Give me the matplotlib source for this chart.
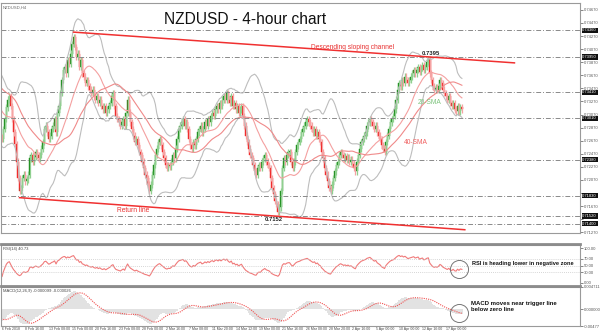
import numpy as np
import pandas as pd
import matplotlib
matplotlib.use("Agg")
import matplotlib.pyplot as plt
import matplotlib.transforms as mtransforms
from matplotlib.lines import Line2D

plt.rcParams['font.family'] = ['Liberation Sans', 'DejaVu Sans']

# 4h closes in pips above 0.7000, warm-up bars before 6 Feb are not drawn
warmup = [365, 372, 378, 385, 380, 388, 392, 386, 380, 375, 382, 390, 395, 398, 392, 388,
          380, 372, 368, 360, 355, 350, 345, 352, 348, 340, 335, 330, 322, 315, 318, 310,
          305, 300, 295, 290, 285, 280, 276, 272]
pips = [270, 285, 300, 318, 330, 335, 320, 300, 280, 262, 235, 210, 190, 195, 210, 215,
        205, 208, 215, 240, 245, 235, 242, 250, 245, 240, 245, 255, 265, 285, 290, 280,
        270, 275, 285, 290, 300, 280, 310, 320, 340, 360, 375, 380, 370, 390, 385, 400,
        415, 425, 410, 395, 400, 380, 390, 370, 365, 355, 360, 350, 345, 340, 345, 335,
        330, 335, 325, 330, 320, 315, 320, 310, 315, 320, 325, 335, 340, 320, 305, 300,
        295, 290, 295, 300, 290, 310, 330, 310, 295, 285, 275, 265, 270, 260, 250, 245,
        235, 225, 215, 210, 200, 190, 200, 215, 230, 245, 255, 265, 270, 260, 250, 240,
        230, 225, 230, 228, 235, 245, 240, 255, 270, 285, 290, 295, 300, 290, 295, 285,
        270, 260, 255, 265, 260, 270, 280, 285, 290, 280, 285, 295, 290, 300, 295, 305,
        310, 305, 315, 320, 315, 325, 320, 330, 335, 330, 340, 330, 325, 335, 320, 325,
        315, 320, 310, 315, 320, 305, 290, 275, 265, 255, 245, 240, 230, 220, 215, 225,
        230, 225, 235, 240, 245, 235, 230, 225, 210, 195, 185, 175, 170, 158, 165, 190,
        225, 240, 235, 245, 250, 250, 235, 225, 235, 250, 260, 265, 270, 280, 285, 290,
        295, 300, 295, 290, 285, 280, 285, 275, 280, 270, 265, 250, 240, 225, 215, 205,
        195, 190, 200, 210, 220, 230, 235, 245, 250, 245, 240, 243, 238, 242, 235, 238,
        232, 225, 220, 235, 245, 255, 265, 270, 275, 280, 290, 295, 300, 295, 290, 285,
        290, 280, 275, 270, 260, 255, 250, 265, 275, 285, 295, 300, 305, 315, 330, 345,
        355, 350, 360, 355, 365, 360, 355, 360, 365, 370, 375, 370, 375, 380, 372, 378,
        382, 375, 380, 388, 392, 370, 360, 350, 345, 348, 345, 350, 360, 355, 345, 340,
        335, 330, 335, 325, 320, 325, 315, 312, 320, 312, 318, 315]

tick_labels = ["6 Feb 2018", "8 Feb 16:00", "13 Feb 08:00", "15 Feb 00:00", "20 Feb 16:00",
               "23 Feb 08:00", "28 Feb 00:00", "2 Mar 16:00", "7 Mar 08:00", "11 Mar 20:00",
               "14 Mar 12:00", "19 Mar 00:00", "21 Mar 16:00", "26 Mar 08:00", "28 Mar 20:00",
               "2 Apr 16:00", "5 Apr 00:00", "10 Apr 00:00", "12 Apr 16:00", "17 Apr 00:00"]
levels = [0.7436, 0.7395, 0.7341, 0.7301, 0.7238, 0.7183, 0.7152, 0.7140]
price_ticks = [0.7127 + 0.002 * k for k in range(18)]
upper_x, upper_y = [49, 351], [0.7433, 0.7386]
lower_x, lower_y = [12, 317], [0.7180, 0.7131]

allc = pd.Series(0.7 + np.array(warmup + pips) / 10000.0)
n0 = len(warmup)
sma20 = allc.rolling(20).mean()
sma40 = allc.rolling(40).mean()
sd20 = allc.rolling(20).std(ddof=0)
bb_up = sma20 + 2 * sd20
bb_dn = sma20 - 2 * sd20
delta = allc.diff()
gain = delta.clip(lower=0).ewm(alpha=1 / 14, adjust=False).mean()
loss = (-delta.clip(upper=0)).ewm(alpha=1 / 14, adjust=False).mean()
rsi = 100 - 100 / (1 + gain / loss)
macd = allc.ewm(span=12, adjust=False).mean() - allc.ewm(span=26, adjust=False).mean()
signal = macd.rolling(9).mean()

close = allc.values[n0:]
opn = allc.values[n0 - 1:-1]
x = np.arange(len(close))
up = close >= opn

fig = plt.figure(figsize=(6, 3.36), dpi=100)
ax = fig.add_axes([1 / 600, 103 / 336, 579 / 600, 230 / 336])
ax_r = fig.add_axes([1 / 600, 50 / 336, 579 / 600, 41 / 336], sharex=ax)
ax_m = fig.add_axes([1 / 600, 10 / 336, 579 / 600, 39 / 336], sharex=ax)

green, red = '#178a17', '#f01c1c'
for a in (ax, ax_r, ax_m):
    for s in a.spines.values():
        s.set_color('#9a9a9a')
        s.set_linewidth(0.8)
    a.tick_params(left=False, labelleft=False, bottom=False, labelbottom=False,
                  right=True, labelright=True, direction='out', length=2, width=0.5,
                  colors='#555555', labelsize=3, pad=1)

# price panel
ax.vlines(x, np.minimum(opn, close) - 0.0005, np.maximum(opn, close) + 0.0005,
          colors=np.where(up, '#8fd08f', '#f5a3a3'), linewidth=0.9)
ax.bar(x, np.where(np.abs(close - opn) < 0.0001, 0.0001, close - opn), bottom=opn,
       width=1.0, color=np.where(up, green, red), edgecolor=np.where(up, green, red),
       linewidth=0.3)
xi = np.arange(-n0, len(close))
ax.plot(xi, bb_up, color='#bdbdbd', lw=0.8)
ax.plot(xi, bb_dn, color='#bdbdbd', lw=0.8)
ax.plot(xi, sma20, color='#f4a0a0', lw=0.8)
ax.plot(xi, sma40, color='#f08a8a', lw=0.8)
for lv in levels:
    ax.axhline(lv, color='#8a8a8a', lw=0.7, ls=(0, (5, 2, 1, 2)))
ax.plot(upper_x, upper_y, color='#f03030', lw=1.1)
ax.plot(lower_x, lower_y, color='#f03030', lw=1.1)
ax.set_xlim(-0.7, 395.9)
ax.set_ylim(0.71260, 0.74775)
ax.set_yticks(price_ticks)
ax.set_yticklabels([f"{t:.5f}" if min(abs(t - lv) for lv in levels) > 0.0006 else ""
                    for t in price_ticks])
trans = mtransforms.blended_transform_factory(ax.transAxes, ax.transData)
for lv in levels:
    ax.text(1.004, lv, f"{lv:.5f}", transform=trans, fontsize=3, color='white',
            va='center', ha='left',
            bbox=dict(boxstyle='square,pad=0.15', fc='#111111', ec='none'))

ax.text(240, 0.7410, "Descending sloping channel", color='#e83030', fontsize=4.8,
        ha='center', va='center')
ax.text(294, 0.74005, "0.7395", color='#222222', fontsize=4.2, ha='center',
        va='center', fontweight='bold')
ax.text(285, 0.7326, "20-SMA", color='#7cc47c', fontsize=4.8, ha='left', va='center')
ax.text(275, 0.7265, "40-SMA", color='#f06060', fontsize=4.8, ha='left', va='center')
ax.text(79, 0.7161, "Return line", color='#e83030', fontsize=4.8, ha='left', va='center')
ax.text(180, 0.7147, "0.7152", color='#222222', fontsize=4.2, ha='left', va='center',
        fontweight='bold')
ax.text(0.003, 0.99, "NZDUSD,H4", transform=ax.transAxes, fontsize=3, color='#666666',
        va='top')
fig.text(245 / 600, 1 - 20 / 336, "NZDUSD - 4-hour chart", fontsize=11.2, ha='center',
         va='center', color='#111111')

# RSI panel
ax_r.plot(xi, rsi, color='#f07a7a', lw=0.8)
for lv in (30, 50, 70):
    ax_r.axhline(lv, color='#c8c8c8', lw=0.6, ls=(0, (1, 1.5)))
ax_r.set_ylim(-8.6, 108.6)
ax_r.set_yticks([0, 30, 50, 70, 100])
ax_r.set_yticklabels(["0.00", "30.00", "50.00", "70.00", "100.00"])
ax_r.text(0.003, 0.95, "RSI(14) 40.73", transform=ax_r.transAxes, fontsize=3,
          color='#444444', va='top')
ax_r.plot([x[-1] - 2], [rsi.iloc[-1]], marker='o', ms=13, mfc='none', mec='#777777', mew=0.7)
ax_r.text(322, 57, "RSI is heading lower in negative zone", fontsize=4.1, fontweight='bold',
          color='#111111', va='center', ha='left')

# MACD panel
ax_m.bar(xi, macd, width=1.0, color='#e2e2e2', linewidth=0)
ax_m.plot(xi, signal, color='#f05050', lw=0.8, ls=(0, (1, 1)))
ax_m.set_ylim(-0.0035, 0.0047)
ax_m.set_yticks([-0.0035, 0.0, 0.004711])
ax_m.set_yticklabels(["-0.00477", "0.000000", "0.004711"])
ax_m.text(0.003, 0.95, "MACD(12,26,9) -0.000099 -0.000026", transform=ax_m.transAxes,
          fontsize=3, color='#444444', va='top')
ax_m.plot([x[-1] - 2], [signal.iloc[-1]], marker='o', ms=13, mfc='none', mec='#777777',
          mew=0.7)
ax_m.text(321, 0.0006, "MACD moves near trigger line\nbelow zero line", fontsize=4.3,
          fontweight='bold', color='#111111', va='center', ha='left', linespacing=1.1)

for i, lab in enumerate(tick_labels):
    ax_m.text(i * 16, -0.0037, lab, fontsize=2.5, color='#444444', ha='left', va='top')

for yy in (244, 286):
    fig.add_artist(Line2D([1 / 600, 580 / 600], [1 - yy / 336] * 2, color='#8c8c8c', lw=2))

fig.savefig("out.png", dpi=100)
